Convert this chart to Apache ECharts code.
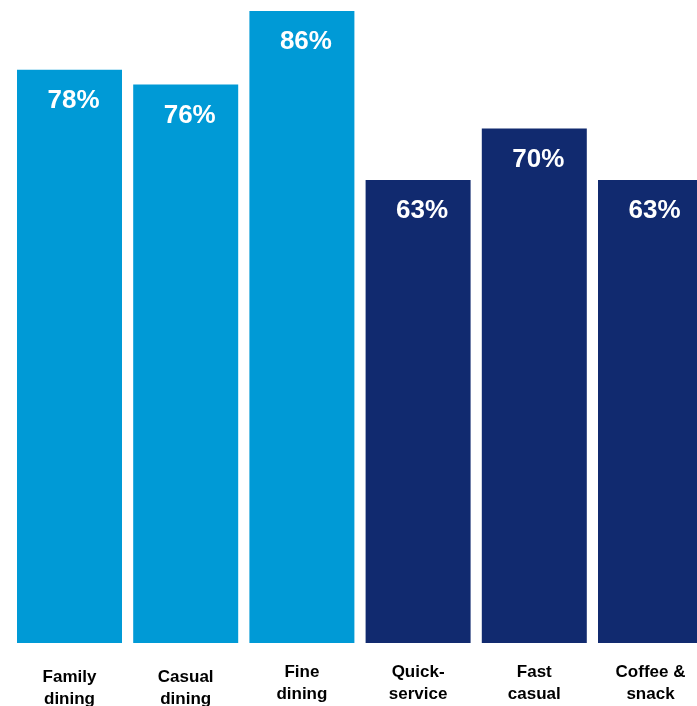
<!DOCTYPE html>
<html>
<head>
<meta charset="utf-8">
<script src="https://cdn.jsdelivr.net/npm/echarts@6/dist/echarts.min.js"></script>
<style>html,body{margin:0;padding:0;background:#fff;}#c{width:697px;height:706px;}</style>
</head>
<body>
<div id="c"></div>
<script>
const categories = ['Family\ndining', 'Casual\ndining', 'Fine\ndining', 'Quick-\nservice', 'Fast\ncasual', 'Coffee &\nsnack'];
const values = [78, 76, 86, 63, 70, 63];
const groups = ['full', 'full', 'full', 'limited', 'limited', 'limited'];

const groupColor = { full: '#009AD6', limited: '#112A6F' };
const chart = echarts.init(document.getElementById('c'));
chart.setOption({
  animation: false,
  backgroundColor: '#fff',
  grid: { left: 11.4, width: 697.2, top: 0, bottom: 63, containLabel: false, outerBoundsMode: 'none' },
  xAxis: {
    type: 'category',
    data: categories.map((c, i) => ({ value: c, textStyle: { padding: i < 2 ? [5, 0, 0, 0] : [0, 0, 0, 0] } })),
    axisLine: { show: false },
    axisTick: { show: false },
    axisLabel: {
      margin: 19,
      color: '#000',
      fontFamily: 'Liberation Sans, Arial, sans-serif',
      fontWeight: 'bold',
      fontSize: 17,
      lineHeight: 21.5,
      interval: 0
    }
  },
  yAxis: {
    type: 'value',
    min: 0,
    max: 87.5,
    show: false,
    splitLine: { show: false }
  },
  series: [{
    type: 'bar',
    barWidth: 105,
    data: values.map((v, i) => ({ value: v, itemStyle: { color: groupColor[groups[i]] } })),
    label: {
      show: true,
      position: 'insideTop',
      distance: 18,
      offset: [4, 0],
      formatter: '{c}%',
      color: '#fff',
      fontFamily: 'Liberation Sans, Arial, sans-serif',
      fontWeight: 'bold',
      fontSize: 26
    }
  }]
});
</script>
</body>
</html>
